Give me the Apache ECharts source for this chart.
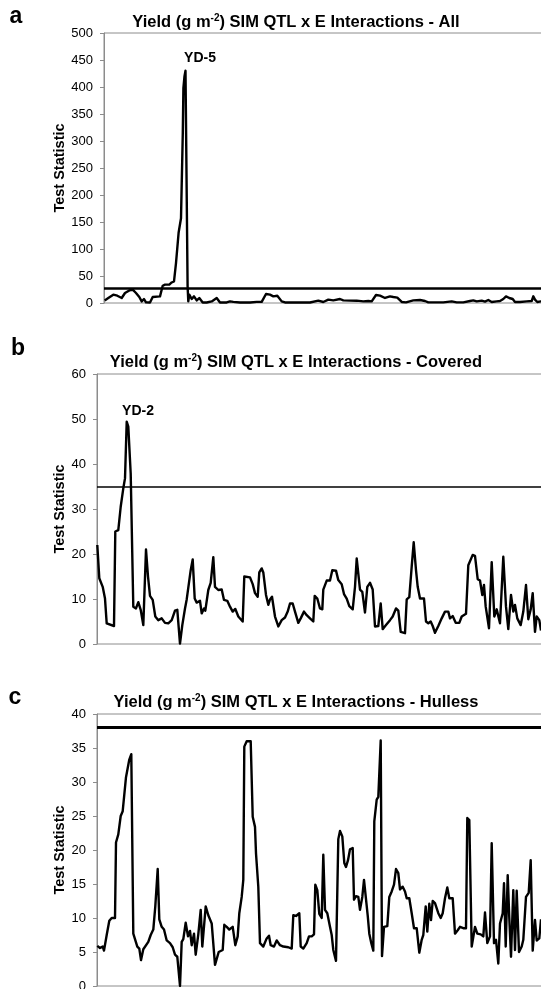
<!DOCTYPE html>
<html><head><meta charset="utf-8">
<script src="https://cdn.jsdelivr.net/npm/echarts@6/dist/echarts.min.js"></script>
<style>html,body{margin:0;padding:0;background:#fff;}#c{width:541px;height:989px;}</style>
</head><body><div id="c"></div>
<script>
// Panel a: All
const posA = [0.7,4.3,9.3,13.3,17.7,21,25.3,28.7,32,35.3,37.7,40,42,46,48.7,56,58.7,61,65.3,67.7,70,72,74.6,77,78,78.8,79.4,80.5,81.5,82.6,83.6,84.3,85.3,87.7,90,92.7,95.3,98.7,102.7,107.7,112.7,116,122.7,126,129.3,136,146,152.7,157.7,162,166,169.3,173.3,177.7,181,192.7,206,214.3,219.3,224.3,229.3,236,239.3,252.7,259.3,264.3,267.7,272,276,281,286,289.3,293.3,297.7,302,309.3,316,321,324.3,339.3,347.7,352.7,359.3,366,369.3,372.7,377.7,381,384.3,387.7,392.7,396,399.3,402,403.3,405.3,406.7,408.7,411,416,422.7,427.7,429.3,431,433.3,437,440];
const valA = [4.8,9.2,15.4,13.5,9.2,18.5,23.3,24.6,18.5,11.1,3,7.4,1.1,1,11,12.3,32,34,34,38,40,74,130,157,160,315,398,420,430,429,31,3,15.4,7.4,12.3,4.8,9.2,1,1,3,9.2,1,1,3,2,1,1,2,2,16.6,15.4,12.3,13.5,3,1,1,1,4.3,1.8,6.2,4.9,7.4,4.9,4.3,3,3.7,3,14.8,13.6,9.3,12.3,11.1,9.9,1.9,1.2,4.9,5.6,3.7,1.2,1.2,3,1.2,1.2,3.7,4.9,3,4.3,2.5,5.6,1.9,3,3.7,7.4,12.3,14.8,9.3,6.2,7.4,1.9,1.9,3,3.7,12.3,6.2,1.9,3,2];
const thresholdA = 27;
const yTicksA = {min:0, max:500, interval:50};
const peaksA = [{name:'YD-5', pos:96, value:454}];

// Panel b: Covered
const posB = [0.3,2.3,5.7,8,9.7,17,18.3,21.3,23.7,26.3,28,29.7,31.3,33.7,36.3,39,41.3,43.7,46.3,48,49,51,53,55.7,58.3,61.3,64.7,68,71.3,74.7,78,80.3,83,85.3,88,89.7,91.7,93.7,95.7,97.7,99.7,103,104.7,107,108.3,111.3,113.7,116.3,118,121.3,124.7,127,130.3,133,135.7,138.3,141.3,145.7,147.3,153,155.7,158,160.7,162.3,164.7,166.3,169,171.3,173,175,178,181.3,184.7,188,190.7,193,195.7,198,201.3,203.7,207,209.7,213,216.3,217.7,220.3,223,225.3,226.3,229.7,233,235.3,239,241.3,244.7,247,249.7,252.3,255.7,258,259.7,261.3,263,265.3,268,270.3,273,275.7,278,281.3,283.7,285.7,289,293,295.7,299,301.3,303.7,308,309.7,312.3,314.7,316.7,319,320.7,323,327,329,331.3,333.7,335.7,338,341.3,344.7,348,351.3,353,355.7,358.7,362.3,364.7,369,371.3,373,375.7,378,380.7,383,385.3,387,388.7,392,394.7,397.3,399.7,403,406.3,409,411.3,414,416.3,418,420.3,423.7,426.3,429,431.3,433.7,435.7,438,439.7,442.3,444];
const valB = [22,14.6,12.7,10.1,4.6,4.0,25,25.3,30.5,34.6,36.8,49.4,48.3,37.9,8.3,7.9,9.3,7.6,4.2,4.0,21,15,10.7,9.8,6.1,5.3,5.7,4.7,4.6,5.3,7.4,7.6,0.1,4.2,7.9,9.9,10.1,16.4,18.8,10.1,9.2,9.6,6.8,7.9,7.4,12,13.6,19.3,12.7,12,12.1,9.8,9.6,8.3,7.2,7.8,6.1,5.0,15,14.8,13.3,11.3,10.5,15.9,16.8,15.9,10.9,8.7,9.9,10.5,6.1,3.9,5.3,5.9,7.2,9.0,9.0,7.2,4.7,5.7,7.2,6.4,5.7,5.0,10.7,10.1,7.9,7.7,12.1,14.1,14.1,16.4,16.3,14.2,13.3,11.1,10.1,8.4,7.7,12.7,19,19,12.1,11.6,7.0,12.7,13.6,12.1,3.9,4.0,9.0,3.3,4.2,5.3,6.1,7.9,7.4,2.7,2.4,9.9,10.4,17.2,22.6,16.4,12.7,10.1,10.1,5.0,4.6,5.0,4.0,2.5,4.0,5.7,7.2,7.2,5.7,6.2,4.7,4.7,6.1,6.7,17.5,17.9,19.8,19.6,14.4,14.1,10.9,13.1,8.3,3.5,18.2,6.1,7.7,4.6,19.4,8.3,3.3,10.9,7.2,8.7,5.7,4.2,7.2,13.1,5.5,7.7,11.3,2.7,6.1,5.3,3];
const thresholdB = 35;
const yTicksB = {min:0, max:60, interval:10};
const peaksB = [{name:'YD-2', pos:41, value:51.8}];

// Panel c: Hulless
const posC = [0.3,3,5.7,7,9.7,12.3,14.7,16.3,18,19,21.3,23.7,25.7,27.7,29,31,32.3,34.3,36.3,38.3,40.3,42.3,44,46.3,48.3,51.3,53.7,56.3,58.3,60.7,62.3,64.7,67,69.7,73,75.7,78,80.3,83,84.7,86.3,88.7,91,93,94.7,97,98.7,101.3,103.7,105.3,107.3,108.7,111.3,114.7,118,119.7,121.7,125.7,127.3,129.7,132.3,135.7,138.3,140.7,142.3,144.7,146.3,147.3,149.7,153.7,155.7,158,159,161.3,163,166.3,169.7,172,173.7,177,179.7,183,186.3,191.3,194.7,196.3,199,202.3,203.7,206.3,209.7,212,214.7,217,218.3,220.3,222.3,224.7,226.3,228,230.3,233,234.7,236.3,239,241.3,243,245.3,247.3,249,251,253,255.7,257,259,261.3,263,265.3,267,269,270.7,272.3,274.3,276.3,277.3,279.7,281.3,283.7,285,287,290.3,292.3,294.7,297,299,301.3,303,305.7,308,309.7,312.3,314.7,317,319.7,322.3,324.7,326.3,328.7,330.3,332.3,334,335.7,338,341.3,343.7,345.7,348,350.3,352.3,355.7,358,360.7,363,366.3,369,370.3,372.3,374.7,378,380.3,383.7,386.3,388,390.3,393,394.7,397,399,401.3,403,405.7,407,408.7,410.7,412.3,414,416.3,418,419.7,422,424.7,426.3,429,431.7,433.7,435.7,438,439.7,442.3,444];
const valC = [5.9,5.6,5.8,5.2,7.5,9.6,10.0,10.2,10.0,21.1,22.3,25,25.7,25.9,30.7,30.9,33.3,34.1,7.7,7.5,5.8,5.5,3.8,5.4,5.3,6.5,7.5,8.3,11.7,17.2,9.8,8.7,8.3,6.7,6.3,5.7,4.6,4.3,0,6.5,6.9,9.3,7.3,8.1,6.0,7.7,4.6,7.6,11.2,5.8,5.8,11.7,10.4,9.2,3.1,3.1,5.0,5.3,9.0,8.7,8.3,8.7,6.0,7.3,10.7,13.1,15.6,35.2,36.0,36.0,24.9,23.4,19.5,14.6,6.3,5.8,7.0,7.4,6.0,5.8,6.7,6.0,5.8,5.7,5.5,10.4,10.3,10.7,5.8,5.5,6.3,7.3,7.3,7.6,14.9,14.1,10.6,10,19.3,11.2,10.7,8.7,7.5,5.3,3.7,21.6,22.8,22,18.1,17.5,18.5,20.1,20.3,12.7,13.2,13.1,11.2,13.1,15.6,15.6,10.4,7.7,6.3,5.2,24.2,27.4,27.8,36.1,4.4,8.7,8.8,13.1,13.9,14.9,17.2,16.6,14.2,14.6,13.9,12.9,12.9,10.7,8.5,8.5,4.9,6.8,7.5,11.7,8.0,12.1,9.7,12.5,12.2,10.7,10,10.7,12.9,14.5,12.9,12.9,7.7,8.2,8.7,8.5,8.5,24.7,24.4,5.8,8.7,7.7,7.6,7.3,10.8,6.3,7.3,21,6.3,6.8,3.3,9.2,10.7,15.1,5.8,16.3,10,4.3,14.1,5.3,14,5,5.8,6.8,13.1,13.7,18.5,5.2,9.7,6.7,7,9.8];
const thresholdC = 38;
const yTicksC = {min:0, max:40, interval:5};
const peaksC = [];

const titles = [
  {letter:'a', text:'Yield (g m{sup|-2}) SIM QTL x E Interactions - All'},
  {letter:'b', text:'Yield (g m{sup|-2}) SIM QTL x E Interactions - Covered'},
  {letter:'c', text:'Yield (g m{sup|-2}) SIM QTL x E Interactions - Hulless'}
];
const yName = 'Test Statistic';

const FONT = '"Liberation Sans", Arial, Helvetica, sans-serif';
const grids = [
  {left:104, top:33, width:447, height:270},
  {left:97, top:374, width:454, height:270},
  {left:97, top:714, width:454, height:272}
];
const titlePos = [{x:296, y:22, lx:16, ly:17},{x:296, y:362, lx:18, ly:349},{x:296, y:702, lx:15, ly:698}];
const nameGaps = [37, 30, 30];
const panels = [
  {pos:posA, val:valA, thr:thresholdA, ticks:yTicksA, peaks:peaksA, thrWidth:2.5},
  {pos:posB, val:valB, thr:thresholdB, ticks:yTicksB, peaks:peaksB, thrWidth:1.6},
  {pos:posC, val:valC, thr:thresholdC, ticks:yTicksC, peaks:peaksC, thrWidth:3}
];

const chart = echarts.init(document.getElementById('c'), null, {renderer:'canvas'});
const option = {
  animation:false,
  backgroundColor:'#fff',
  grid: grids.map(g => Object.assign({show:true, borderColor:'#8c8c8c', borderWidth:1, backgroundColor:'transparent', containLabel:false, outerBoundsMode:'none'}, g)),
  xAxis: grids.map((g,i) => ({type:'value', gridIndex:i, min:0, max:g.width, show:false})),
  yAxis: panels.map((p,i) => ({
    type:'value', gridIndex:i, min:p.ticks.min, max:p.ticks.max, interval:p.ticks.interval,
    name:yName, nameLocation:'middle', nameGap:nameGaps[i], nameRotate:90, nameMoveOverlap:false,
    nameTextStyle:{fontFamily:FONT, fontSize:14.5, fontWeight:'bold', color:'#000'},
    axisLine:{show:true, lineStyle:{color:'#8c8c8c', width:1}},
    axisTick:{show:true, length:4, lineStyle:{color:'#8c8c8c'}},
    axisLabel:{fontFamily:FONT, fontSize:13, color:'#000', margin:11},
    splitLine:{show:false}
  })),
  series: panels.map((p,i) => ({
    type:'line', xAxisIndex:i, yAxisIndex:i,
    data:p.pos.map((x,j) => [x, p.val[j]]),
    showSymbol:false, symbol:'none', clip:true,
    lineStyle:{color:'#000', width:2.4, join:'round'},
    markLine:{silent:true, symbol:'none', label:{show:false},
      lineStyle:{color:'#000', width:p.thrWidth, type:'solid'},
      data:[{yAxis:p.thr}]},
    markPoint:{silent:true, symbol:'circle', symbolSize:1, itemStyle:{color:'rgba(0,0,0,0)'},
      label:{show:true, position:'inside', formatter:'{b}', fontFamily:FONT, fontSize:14, fontWeight:'bold', color:'#000'},
      data:p.peaks.map(k => ({name:k.name, coord:[k.pos, k.value]}))}
  })),
  graphic: titles.flatMap((t,i) => [
    {type:'text', x:titlePos[i].x, y:titlePos[i].y, style:{text:t.text, textAlign:'center', textVerticalAlign:'middle',
      font:'bold 16.5px ' + FONT, fill:'#000',
      rich:{sup:{font:'bold 10px ' + FONT, fill:'#000', verticalAlign:'top', padding:[0,0,8,0]}}}},
    {type:'text', x:titlePos[i].lx, y:titlePos[i].ly, style:{text:t.letter, textAlign:'center', textVerticalAlign:'middle',
      font:'bold 23px ' + FONT, fill:'#000'}}
  ])
};
chart.setOption(option);
</script>
</body></html>
